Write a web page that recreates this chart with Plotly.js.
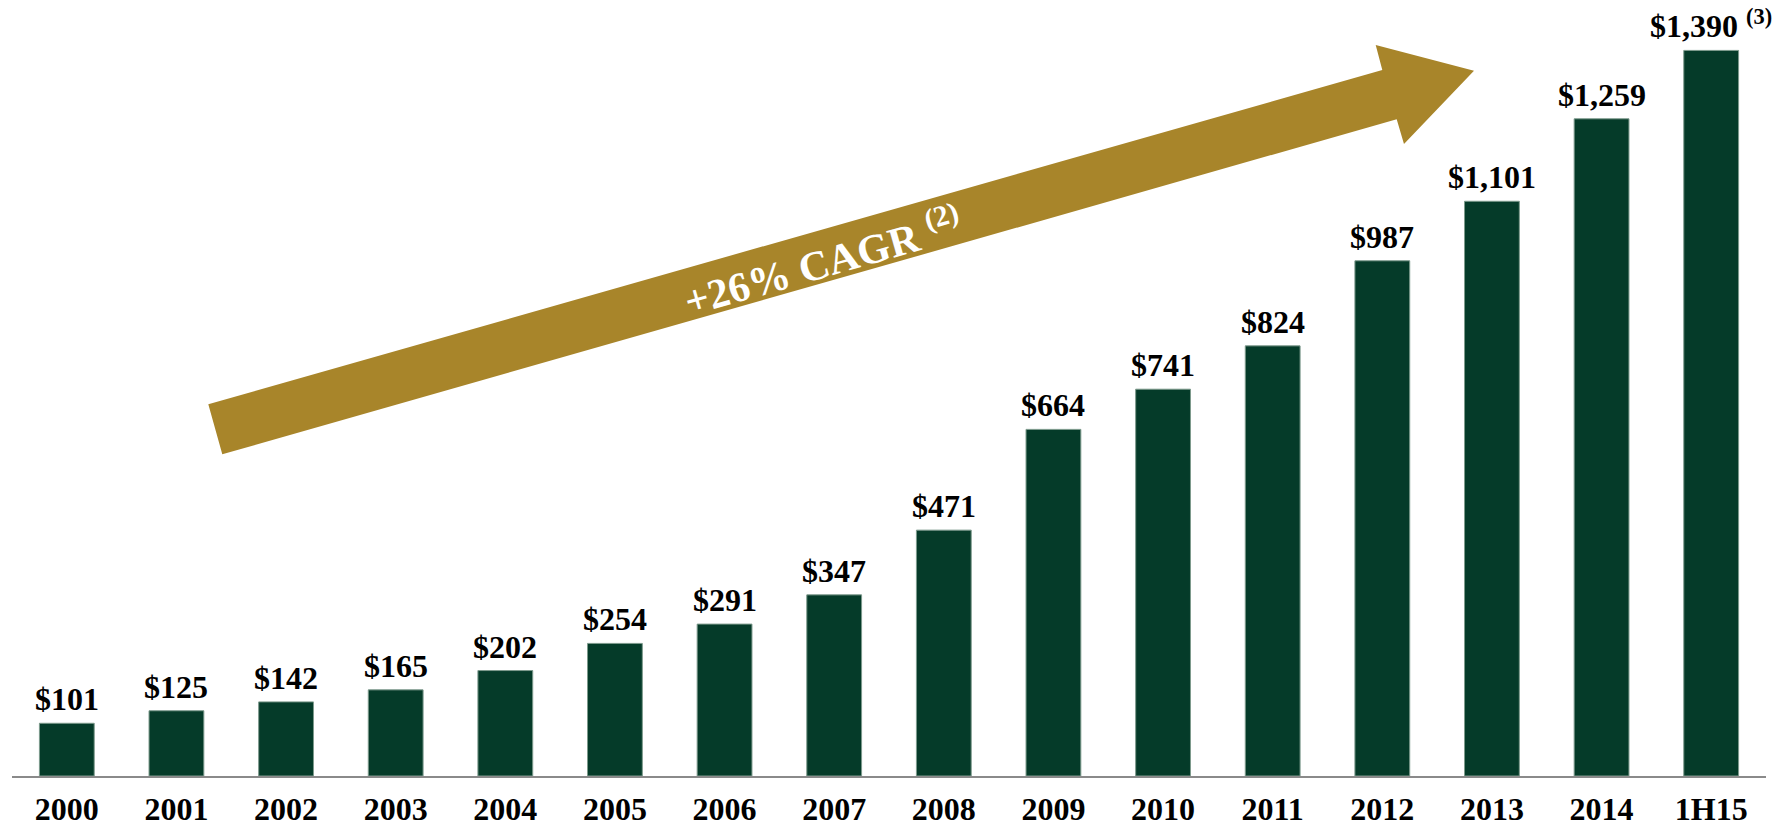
<!DOCTYPE html>
<html>
<head>
<meta charset="utf-8">
<script src="https://cdn.plot.ly/plotly-3.0.1.min.js"></script>
<style>
  html, body { margin: 0; padding: 0; background: #ffffff; }
  #chart { width: 1784px; height: 828px; }
</style>
</head>
<body>
<div id="chart"></div>
<script>
// ---- Data ----
const categories = ['2000','2001','2002','2003','2004','2005','2006','2007','2008','2009','2010','2011','2012','2013','2014','1H15'];
const values = [101, 125, 142, 165, 202, 254, 291, 347, 471, 664, 741, 824, 987, 1101, 1259, 1390];
const footnotes = ['', '', '', '', '', '', '', '', '', '', '', '', '', '', '', '(3)'];
const arrowLabel = '+26% CAGR';
const arrowFootnote = '(2)';

// ---- Styling ----
const W = 1784, H = 828;
const M = { l: 12, r: 18, t: 0, b: 52 };
const plotW = W - M.l - M.r, plotH = H - M.t - M.b;
const FONT = 'Liberation Serif, Times New Roman, Times, serif';
const BAR = '#053b29';
const GOLD = '#a8852a';

function px(x) { return (x - M.l) / plotW; }
function py(y) { return (H - M.b - y) / plotH; }

const labelText = values.map((v, i) =>
  '$' + v.toLocaleString('en-US') + (footnotes[i] ? ' <sup>' + footnotes[i] + '</sup>' : ''));

const barTrace = {
  type: 'bar',
  x: categories,
  y: values,
  marker: { color: BAR, line: { color: '#7d9a8c', width: 1 } },
  hoverinfo: 'skip'
};

// category index used as annotation x (numeric-looking category names are otherwise misread)
const labelAnnotations = categories.map((c, i) => ({
  x: i, y: values[i], xref: 'x', yref: 'y',
  text: labelText[i],
  showarrow: false,
  xanchor: 'center', yanchor: 'bottom',
  yshift: 4,
  font: { family: FONT, size: 32, color: '#000000', weight: 'bold' }
}));

// decorative arrow (pixel outline converted to paper units)
const arrowPts = [[208.3,404.3],[1382.3,70],[1375.7,45],[1474,70.7],[1404,144],[1396.7,119.3],[222.3,454.3]];
const arrowPath = 'M' + arrowPts.map(p => px(p[0]).toFixed(5) + ',' + py(p[1]).toFixed(5)).join(' L') + ' Z';

const layout = {
  width: W, height: H,
  margin: M,
  paper_bgcolor: '#ffffff',
  plot_bgcolor: '#ffffff',
  showlegend: false,
  bargap: 0.5,
  xaxis: {
    type: 'category',
    range: [-0.5, categories.length - 0.5],
    showgrid: false, zeroline: false,
    showline: true, linecolor: '#8a8a8a', linewidth: 2,
    ticks: '',
    ticklabelstandoff: 4,
    tickfont: { family: FONT, size: 32, color: '#000000', weight: 'bold' },
    fixedrange: true
  },
  yaxis: {
    range: [0, 1486.6],
    visible: false,
    showgrid: false, zeroline: false,
    fixedrange: true
  },
  shapes: [{
    type: 'path', xref: 'paper', yref: 'paper',
    path: arrowPath,
    fillcolor: GOLD, line: { width: 0 }, layer: 'below'
  }],
  annotations: labelAnnotations.concat([{
    xref: 'paper', yref: 'paper',
    x: px(822), y: py(260),
    text: arrowLabel + ' <sup>' + arrowFootnote + '</sup>',
    textangle: -15.9,
    showarrow: false,
    xanchor: 'center', yanchor: 'middle',
    font: { family: FONT, size: 42, color: '#ffffff', weight: 'bold' }
  }])
};

Plotly.newPlot('chart', [barTrace], layout, { displayModeBar: false, staticPlot: true });
</script>
</body>
</html>
